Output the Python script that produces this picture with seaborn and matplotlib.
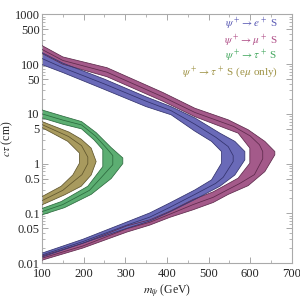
import matplotlib
matplotlib.use("Agg")
import matplotlib.pyplot as plt
import matplotlib.ticker as mticker
import numpy as np
import pandas as pd
import seaborn as sns

# contours: (mass in GeV, c*tau in cm), from the upper-left end,
# round the tip, back to the lower-left end
e_outer = [(100, 171), (150, 105), (250, 50), (350, 22), (410, 14), (467, 8.3), (527, 4.1),
           (563, 2.8), (587, 1.75), (587, 1.19), (563, 0.59), (527, 0.35), (467, 0.19),
           (407, 0.107), (359, 0.07), (304, 0.05), (198, 0.025), (100, 0.0132)]
e_inner = [(100, 98), (150, 68), (250, 31), (350, 14), (410, 9.6), (467, 4.5), (507, 2.8),
           (531, 1.75), (531, 1.02), (507, 0.47), (467, 0.295), (407, 0.162), (359, 0.102),
           (304, 0.067), (198, 0.03), (100, 0.0158)]
e_mid = [(100, 130), (150, 85), (250, 40), (350, 18), (410, 11.6), (467, 6.2), (517, 3.4),
         (547, 2.2), (559, 1.45), (559, 1.1), (535, 0.53), (517, 0.4), (467, 0.24),
         (407, 0.132), (359, 0.084), (304, 0.058), (198, 0.027), (100, 0.0145)]

mu_outer = [(100, 237), (150, 140), (256, 85), (390, 27), (467, 13), (547, 7.6), (595, 4.8),
            (635, 2.8), (659, 1.75), (659, 1.5), (635, 0.69), (595, 0.36), (547, 0.24),
            (511, 0.165), (463, 0.118), (407, 0.083), (359, 0.058), (304, 0.042),
            (198, 0.02), (100, 0.0114)]
mu_inner = [(100, 164), (150, 100), (256, 56), (390, 18), (467, 8.8), (571, 4.1), (599, 2.05),
            (599, 1.02), (571, 0.51), (511, 0.27), (463, 0.19), (407, 0.11), (359, 0.074),
            (304, 0.056), (198, 0.025), (100, 0.0138)]
mu_mid = [(100, 198), (150, 119), (256, 69), (390, 22), (467, 10.7), (560, 5.6), (600, 3.6),
          (622, 2.4), (630, 1.75), (630, 1.25), (610, 0.6), (575, 0.4), (511, 0.21),
          (463, 0.15), (407, 0.096), (359, 0.066), (304, 0.049), (198, 0.022), (100, 0.0125)]

tau_outer = [(100, 12), (150, 9), (195, 7), (230, 4.2), (266, 2.1), (294, 1.3), (294, 1.0),
             (266, 0.5), (218, 0.24), (154, 0.13), (100, 0.093)]
tau_inner = [(100, 8.3), (150, 6.2), (195, 5), (225, 3), (246, 1.9), (246, 0.87), (210, 0.35),
             (146, 0.172), (100, 0.125)]
tau_mid = [(100, 10), (150, 7.5), (195, 6), (228, 3.6), (256, 2.0), (270, 1.45), (270, 0.95),
           (240, 0.5), (214, 0.29), (150, 0.15), (100, 0.108)]

tauem_outer = [(100, 7.0), (165, 4.3), (194, 3.1), (218, 2.05), (230, 1.1), (218, 0.59),
               (194, 0.35), (154, 0.235), (100, 0.148)]
tauem_inner = [(100, 5.3), (162, 2.8), (190, 1.63), (190, 1.02), (174, 0.59), (146, 0.35),
               (100, 0.217)]
tauem_mid = [(100, 6.1), (164, 3.5), (195, 2.3), (210, 1.35), (210, 1.0), (196, 0.6),
             (170, 0.4), (150, 0.29), (100, 0.18)]

labels = [r"$\psi^+ \rightarrow e^+$ S",
          r"$\psi^+ \rightarrow \mu^+$ S",
          r"$\psi^+ \rightarrow \tau^+$ S",
          r"$\psi^+ \rightarrow \tau^+$ S (e$\mu$ only)"]

yticks = [0.01, 0.05, 0.1, 0.5, 1, 5, 10, 50, 100, 500, 1000]
ytick_labels = ["0.01", "0.05", "0.1", "0.5", "1", "5", "10", "50", "100", "500", "1000"]
xticks = [100, 200, 300, 400, 500, 600, 700]

# outer, inner, middle contour, fill colour, edge colour
bands = [
    (mu_outer, mu_inner, mu_mid, "#a45a8a", "#5e2a4c"),
    (e_outer, e_inner, e_mid, "#6a6ab8", "#33336e"),
    (tau_outer, tau_inner, tau_mid, "#5cae72", "#2c6a3e"),
    (tauem_outer, tauem_inner, tauem_mid, "#a89a5e", "#5f552c"),
]
text_colors = ["#5a5ab4", "#b04f88", "#45a860", "#9f9346"]

sns.set_theme(style="ticks")
plt.rcParams["font.family"] = ["Liberation Serif", "DejaVu Serif"]
plt.rcParams["mathtext.fontset"] = "stix"

fig = plt.figure(figsize=(3.0, 2.98), dpi=100)
ax = fig.add_axes([0.14, 0.1174, 0.833, 0.834])

for outer, inner, mid, fill, edge in bands:
    poly = np.array(outer + inner[::-1], dtype=float)
    ax.fill(poly[:, 0], poly[:, 1], color=fill, lw=0, zorder=2)
    for pts in (outer, inner, mid):
        df = pd.DataFrame(pts, columns=["m", "ct"])
        sns.lineplot(data=df, x="m", y="ct", sort=False, estimator=None,
                     color=edge, lw=0.55, ax=ax, zorder=3)

ax.set_yscale("log")
ax.set_xlim(100, 700)
ax.set_ylim(0.01, 1000)
ax.set_yticks(yticks)
ax.set_yticklabels(ytick_labels)
ax.yaxis.set_minor_locator(mticker.LogLocator(base=10, subs=np.arange(2, 10)))
ax.yaxis.set_minor_formatter(mticker.NullFormatter())
ax.set_xticks(xticks)
ax.xaxis.set_minor_locator(mticker.MultipleLocator(50))

ax.tick_params(which="both", direction="in", top=True, right=True,
               color="#999999", labelsize=9)
ax.tick_params(axis="x", pad=3.5)
ax.tick_params(axis="y", pad=1.5)
ax.tick_params(which="major", length=4, width=0.6)
ax.tick_params(which="minor", length=2, width=0.5)
for s in ax.spines.values():
    s.set_color("#aaaaaa")
    s.set_linewidth(0.8)

ax.set_xlabel(r"$m_{\tilde{\psi}}$ (GeV)", fontsize=8.5)
ax.set_ylabel(r"$c\tau$ (cm)", fontsize=8.5)
ax.xaxis.set_label_coords(0.5, -0.075)
ax.yaxis.set_label_coords(-0.11, 0.5)

ys = [0.962, 0.893, 0.832, 0.77]
for lab, col, yy in zip(labels, text_colors, ys):
    ax.text(0.944, yy, lab, color=col, fontsize=8, ha="right", va="center",
            transform=ax.transAxes)

fig.savefig("out.png", dpi=100)
